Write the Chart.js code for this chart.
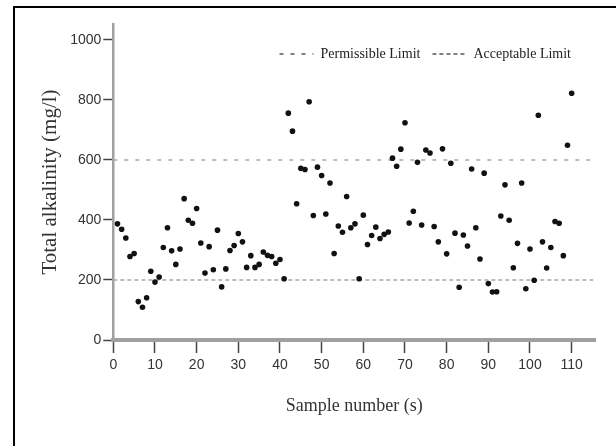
<!DOCTYPE html>
<html lang="en">
<head>
    <meta charset="UTF-8">
    <title>Total alkalinity by sample</title>
    <script src="https://cdn.jsdelivr.net/npm/chart.js"></script>
    <style>
        body { margin: 0; background: #fff; overflow: hidden; }
        .wrap { position: relative; width: 616px; height: 446px; }
        .frame { position: absolute; left: 13px; top: 6px; width: 700px; height: 500px; border: 2px solid #000; }
        canvas { position: absolute; left: 0; top: 0; }
    </style>
</head>
<body>
    <div class="wrap">
        <div class="frame"></div>
        <canvas id="alkalinityChart" width="616" height="446"></canvas>
    </div>

    <script>
        const sampleNumbers = [
            1, 2, 3, 4, 5, 6, 7, 8, 9, 10, 11, 12, 13, 14, 15, 16, 17, 18, 19, 20,
            21, 22, 23, 24, 25, 26, 27, 28, 29, 30, 31, 32, 33, 34, 35, 36, 37, 38, 39, 40,
            41, 42, 43, 44, 45, 46, 47, 48, 49, 50, 51, 52, 53, 54, 55, 56, 57, 58, 59, 60,
            61, 62, 63, 64, 65, 66, 67, 68, 69, 70, 71, 72, 73, 74, 75, 76, 77, 78, 79, 80,
            81, 82, 83, 84, 85, 86, 87, 88, 89, 90, 91, 92, 93, 94, 95, 96, 97, 98, 99, 100,
            101, 102, 103, 104, 105, 106, 107, 108, 109, 110
        ];
        const alkalinity = [
            387, 369, 340, 278, 288, 128, 109, 141, 229, 193, 210, 308, 374, 297, 252, 303, 471, 399, 389, 438,
            323, 223, 311, 234, 366, 177, 237, 298, 315, 355, 327, 242, 281, 242, 252, 293, 282, 278, 256, 268,
            204, 756, 696, 454, 572, 568, 794, 415, 576, 548, 420, 523, 288, 380, 359, 478, 374, 387, 204, 416,
            318, 348, 376, 338, 352, 360, 606, 579, 636, 724, 390, 429, 592, 383, 633, 623, 378, 327, 637, 287,
            589, 356, 176, 350, 313, 570, 374, 270, 556, 188, 160, 161, 413, 517, 399, 241, 322, 523, 171, 303,
            199, 749, 327, 240, 308, 395, 389, 281, 649, 822
        ];
        const permissibleLimit = 600;
        const acceptableLimit = 200;
        const xTicks = [0, 10, 20, 30, 40, 50, 60, 70, 80, 90, 100, 110];
        const yTicks = [0, 200, 400, 600, 800, 1000];

        const X_MIN = 0, X_MAX = 115.6;
        const Y_MIN = 0, Y_MAX = 1053;

        const points = sampleNumbers.map((s, i) => ({ x: s, y: alkalinity[i] }));
        const limitLine = v => [{ x: X_MIN, y: v }, { x: X_MAX, y: v }];

        const tickFont = { family: '"Liberation Sans", sans-serif', size: 14 };
        const serif = '"Liberation Serif", "Times New Roman", serif';

        // legend sits inside the plot in the original, so move its box down after layout
        // (the legend clips to its own box, so shift top and bottom together)
        const legendShift = {
            id: 'legendShift',
            afterLayout(chart) {
                const lg = chart.legend;
                if (!lg) return;
                lg.top += 35;
                lg.bottom += 45;
                lg.right -= 12;
            }
        };

        new Chart(document.getElementById('alkalinityChart'), {
            type: 'scatter',
            data: {
                datasets: [
                    {
                        label: 'Permissible Limit',
                        type: 'line',
                        data: limitLine(permissibleLimit),
                        borderColor: '#a8a8a8',
                        borderWidth: 1.5,
                        borderDash: [4, 7],
                        pointRadius: 0,
                        order: 2
                    },
                    {
                        label: 'Acceptable Limit',
                        type: 'line',
                        data: limitLine(acceptableLimit),
                        borderColor: '#a8a8a8',
                        borderWidth: 1.5,
                        borderDash: [4, 3],
                        pointRadius: 0,
                        order: 2
                    },
                    {
                        label: 'Samples',
                        data: points,
                        backgroundColor: '#111',
                        borderWidth: 0,
                        pointRadius: 2.8,
                        order: 1
                    }
                ]
            },
            options: {
                responsive: false,
                animation: false,
                devicePixelRatio: 1,
                layout: { padding: { left: 0, top: 0, right: 21, bottom: 0 } },
                plugins: {
                    tooltip: { enabled: false },
                    legend: {
                        position: 'top',
                        align: 'end',
                        maxHeight: 24,
                        labels: {
                            usePointStyle: true,
                            pointStyle: 'line',
                            pointStyleWidth: 34,
                            padding: 12,
                            color: '#222',
                            font: { family: serif, size: 14 },
                            filter: item => item.text !== 'Samples',
                            generateLabels(chart) {
                                const items = Chart.defaults.plugins.legend.labels.generateLabels(chart);
                                items.forEach(it => {
                                    const ds = chart.data.datasets[it.datasetIndex];
                                    it.strokeStyle = '#555';
                                    it.lineWidth = 1.3;
                                    it.lineDash = ds.borderDash;
                                });
                                return items;
                            }
                        }
                    }
                },
                scales: {
                    x: {
                        type: 'linear',
                        min: X_MIN,
                        max: X_MAX,
                        afterFit: s => { s.height = 106; },
                        afterBuildTicks: s => { s.ticks = xTicks.map(v => ({ value: v })); },
                        border: { display: true, color: '#a0a0a0', width: 4 },
                        grid: { drawOnChartArea: false, tickLength: 13, tickColor: '#444', tickWidth: 1.5 },
                        ticks: { color: '#333', font: tickFont, padding: 4, maxRotation: 0, callback: v => String(v) },
                        title: {
                            display: true,
                            text: 'Sample number (s)',
                            color: '#333',
                            font: { family: serif, size: 18 },
                            padding: { top: 0, bottom: 28.5 }
                        }
                    },
                    y: {
                        type: 'linear',
                        min: Y_MIN,
                        max: Y_MAX,
                        afterFit: s => { s.width = 113.3; },
                        afterBuildTicks: s => { s.ticks = yTicks.map(v => ({ value: v })); },
                        border: { display: true, color: '#a0a0a0', width: 2.5 },
                        grid: { drawOnChartArea: false, tickLength: 10, tickColor: '#444', tickWidth: 1.5 },
                        ticks: { color: '#333', font: tickFont, padding: 2, callback: v => String(v) },
                        title: {
                            display: true,
                            text: 'Total alkalinity (mg/l)',
                            color: '#333',
                            font: { family: serif, size: 21 },
                            padding: { top: 38, bottom: 0 }
                        }
                    }
                }
            },
            plugins: [legendShift]
        });
    </script>
</body>
</html>
